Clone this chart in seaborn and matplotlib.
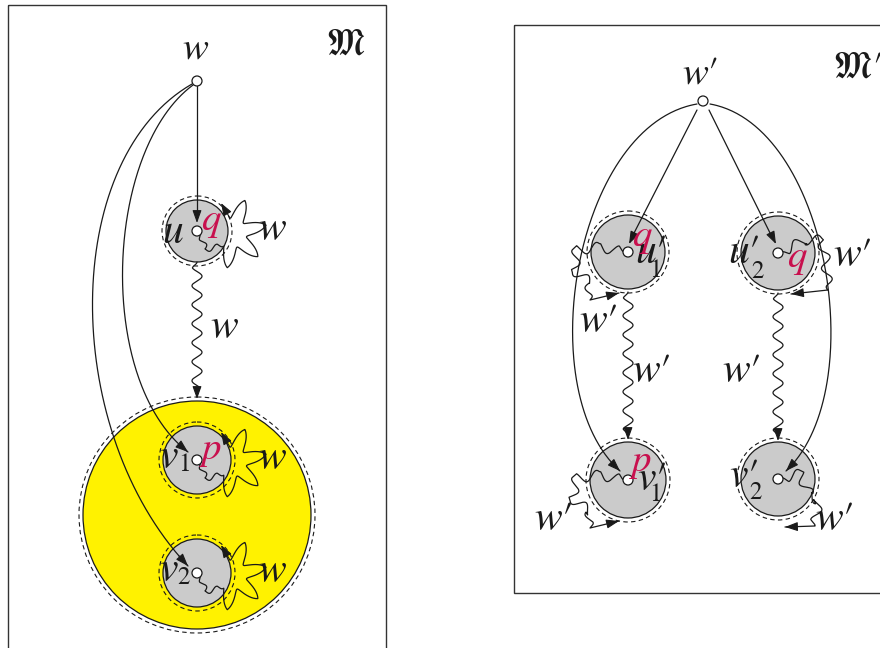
import numpy as np
import matplotlib
matplotlib.use("Agg")
import matplotlib.pyplot as plt
from matplotlib.patches import Circle, Rectangle
import seaborn as sns

sns.set_theme(style="white")
plt.rcParams['font.family'] = ['STIXGeneral', 'DejaVu Serif']
plt.rcParams['mathtext.fontset'] = 'stix'

GRAY = '#cbcbcb'
YELLOW = '#fff200'
RED = '#c8104e'

# frames of the two models (x, y, w, h) in pixels
frames = [(8, 5, 378, 670), (514, 25, 390, 568)]
frame_names = [r'$\mathfrak{M}$', r'$\mathfrak{M}\prime$']
frame_name_pos = [(346, 45), (857, 68)]

# left model
root_l = (197, 81)
letters_l = [r'$u$', r'$v$', r'$v$']
digits_l = ['', '1', '2']
centers_l = [(197, 231), (197, 460), (197, 573)]
radii_l = [31, 34, 34]
marks_l = [r'$q$', r'$p$', '']
cluster_c = (197, 515)
cluster_r = 114

# right model
root_r = (703, 101)
letters_r = [r'$u\prime$', r'$u\prime$', r'$v\prime$', r'$v\prime$']
digits_r = ['1', '2', '1', '2']
centers_r = [(628, 252), (778, 253), (628, 480), (778, 479)]
radii_r = [37, 37, 38, 37]
marks_r = [r'$q$', r'$q$', r'$p$', '']
# label offsets: letter (dx, baseline dy, ha), digit (dx, baseline dy), mark (dx, dy)
letter_off_r = [(7, 11, 'left'), (-18, 10, 'right'), (9, 10, 'left'), (-20, 8, 'right')]
digit_off_r = [(27, 25), (-20, 25), (27, 21), (-22, 20)]
mark_off_r = [(14, -13), (19, 7), (13, -16), (0, 0)]

# right-model self loops (anchor points of the wiggly paths)
loops_r = [
    [(624, 252), (600, 247), (577, 250), (574, 270), (590, 283), (590, 300), (619, 293)],
    [(782, 252), (805, 240), (822, 240), (826, 262), (828, 290), (791, 294)],
    [(624, 480), (600, 475), (577, 478), (572, 498), (590, 512), (590, 528), (619, 521)],
    [(782, 478), (800, 474), (810, 495), (818, 500), (815, 526), (785, 527)],
]
loop_labels_r = [(598, 322), (852, 256), (553, 520), (834, 520)]

fig = plt.figure(figsize=(8.8, 6.48), dpi=100)
ax = fig.add_axes([0, 0, 1, 1])
ax.set_xlim(0, 880)
ax.set_ylim(648, 0)
ax.axis('off')


def wavy(points, amp, wl, n=600):
    pts = np.asarray(points, float)
    seg = np.diff(pts, axis=0)
    ln = np.hypot(seg[:, 0], seg[:, 1])
    cum = np.concatenate([[0], np.cumsum(ln)])
    s = np.linspace(0, cum[-1], n)
    x = np.interp(s, cum, pts[:, 0])
    y = np.interp(s, cum, pts[:, 1])
    idx = np.clip(np.searchsorted(cum, s, side='right') - 1, 0, len(seg) - 1)
    nx = -seg[idx, 1] / ln[idx]
    ny = seg[idx, 0] / ln[idx]
    env = np.clip(np.minimum(s, cum[-1] - s) / 6.0, 0, 1)
    off = amp * env * np.sin(2 * np.pi * s / wl)
    return x + nx * off, y + ny * off


def head(tip, frm, ms=11):
    ax.annotate('', xy=tip, xytext=frm,
                arrowprops=dict(arrowstyle='-|>,head_length=0.7,head_width=0.25',
                                color='k', lw=0.8, shrinkA=0, shrinkB=0,
                                mutation_scale=ms))


def bezier(p0, p1, p2, p3, n=200):
    t = np.linspace(0, 1, n)[:, None]
    p = ((1 - t) ** 3) * np.array(p0) + 3 * ((1 - t) ** 2) * t * np.array(p1) \
        + 3 * (1 - t) * t ** 2 * np.array(p2) + t ** 3 * np.array(p3)
    return p[:, 0], p[:, 1]


def curved_arrow(p0, p1, p2, p3):
    x, y = bezier(p0, p1, p2, p3)
    ax.plot(x, y, color='k', lw=0.9)
    head((x[-1], y[-1]), (x[-6], y[-6]))


def world(c, r, fill=GRAY):
    ax.add_patch(Circle(c, r + 4, fill=False, ec='k', lw=0.8, ls=(0, (4, 3))))
    ax.add_patch(Circle(c, r, fc=fill, ec='k', lw=0.9))


def node(c):
    ax.add_patch(Circle(c, 5, fc='white', ec='k', lw=0.9, zorder=5))


def txt(p, s, size=22, color='k', ha='center', va='center'):
    ax.text(p[0], p[1], s, fontsize=size, color=color, ha=ha, va=va, zorder=6)


for (fx, fy, fw, fh) in frames:
    ax.add_patch(Rectangle((fx, fy), fw, fh, fill=False, ec='#333333', lw=1.0))
for nm, pos in zip(frame_names, frame_name_pos):
    txt(pos, nm, size=26)

# ----- left model -----
ax.add_patch(Circle(cluster_c, cluster_r + 4, fill=False, ec='k', lw=0.8, ls=(0, (4, 3))))
ax.add_patch(Circle(cluster_c, cluster_r, fc=YELLOW, ec='k', lw=0.9))
for c, r in zip(centers_l, radii_l):
    world(c, r)

# star shaped w-loops
for c, r in zip(centers_l, radii_l):
    sc = (c[0] + 35, c[1] + 2)
    th = np.radians(np.linspace(122, -98, 500))
    phase = np.radians(6.5 * (np.degrees(th) + 13))
    lobe = 0.5 * (1 - np.abs(np.sin(phase / 2))) + 0.25 * (1 + np.cos(phase))
    rr = 15 + 20 * lobe
    sx = sc[0] + rr * np.cos(th)
    sy = sc[1] + rr * np.sin(th)
    wx, wy = wavy([(c[0] + 3, c[1] + 3), (c[0] + 8, c[1] + 18), (sx[0], sy[0])], 3, 16)
    ax.plot(np.r_[wx, sx], np.r_[wy, sy], color='k', lw=0.9)
    head((c[0] + 24, c[1] - 28), (sx[-1], sy[-1]))
    txt((c[0] + 75, c[1] - 1), r'$w$', size=30)

# arrows from root
ax.plot([root_l[0], root_l[0]], [root_l[1] + 5, centers_l[0][1] - 14], color='k', lw=0.9)
head((root_l[0], centers_l[0][1] - 8), (root_l[0], centers_l[0][1] - 16))
curved_arrow((193, 85), (105, 150), (95, 380), (188, 452))
curved_arrow((192, 84), (60, 160), (60, 430), (188, 566))

# wavy w-arrow from u down to the cluster
wx, wy = wavy([(197, 262), (197, 392)], 5, 19)
ax.plot(wx, wy, color='k', lw=0.9)
head((197, 399), (197, 389))
txt((224, 328), r'$w$', size=30)

for c, lt, dg, mk in zip(centers_l, letters_l, digits_l, marks_l):
    node(c)
    if dg:
        txt((c[0] - 18, c[1] + 8), lt, size=30, ha='right', va='baseline')
        txt((c[0] - 13, c[1] + 11), dg, size=18, va='baseline')
    else:
        txt((c[0] - 13, c[1] + 12), lt, size=30, ha='right', va='baseline')
    if mk:
        txt((c[0] + 14, c[1] - 8), mk, size=28, color=RED)
node(root_l)
txt((root_l[0] - 1, root_l[1] - 32), r'$w$', size=28)

# ----- right model -----
for c, r in zip(centers_r, radii_r):
    world(c, r)

ax.plot([697, 631], [110, 239], color='k', lw=0.9)
head((629, 244), (633, 236))
ax.plot([709, 773], [110, 239], color='k', lw=0.9)
head((776, 244), (772, 236))
curved_arrow((697, 104), (575, 125), (530, 390), (620, 471))
curved_arrow((710, 104), (828, 125), (872, 390), (786, 471))

for c in centers_r[:2]:
    wx, wy = wavy([(c[0], c[1] + 40), (c[0], c[1] + 183)], 5, 19)
    ax.plot(wx, wy, color='k', lw=0.9)
    head((c[0], c[1] + 188), (c[0], c[1] + 178))
txt((651, 372), r'$w\prime$', size=30)
txt((741, 372), r'$w\prime$', size=30)

for pts, lp in zip(loops_r, loop_labels_r):
    wx, wy = wavy(pts[:-1], 5, 22)
    tail = np.array(pts[-2:], float)
    ax.plot(np.r_[wx, tail[:, 0]], np.r_[wy, tail[:, 1]], color='k', lw=0.9)
    head(tuple(tail[1]), tuple(tail[1] + (tail[0] - tail[1]) * 0.2))
    txt(lp, r'$w\prime$', size=30)

for c, lt, dg, mk, lo, do, mo in zip(centers_r, letters_r, digits_r, marks_r,
                                      letter_off_r, digit_off_r, mark_off_r):
    node(c)
    txt((c[0] + lo[0], c[1] + lo[1]), lt, size=30, ha=lo[2], va='baseline')
    txt((c[0] + do[0], c[1] + do[1]), dg, size=18, va='baseline')
    if mk:
        txt((c[0] + mo[0], c[1] + mo[1]), mk, size=28, color=RED)
node(root_r)
txt((root_r[0] - 3, root_r[1] - 27), r'$w\prime$', size=28)

plt.savefig('out.png', dpi=100)
